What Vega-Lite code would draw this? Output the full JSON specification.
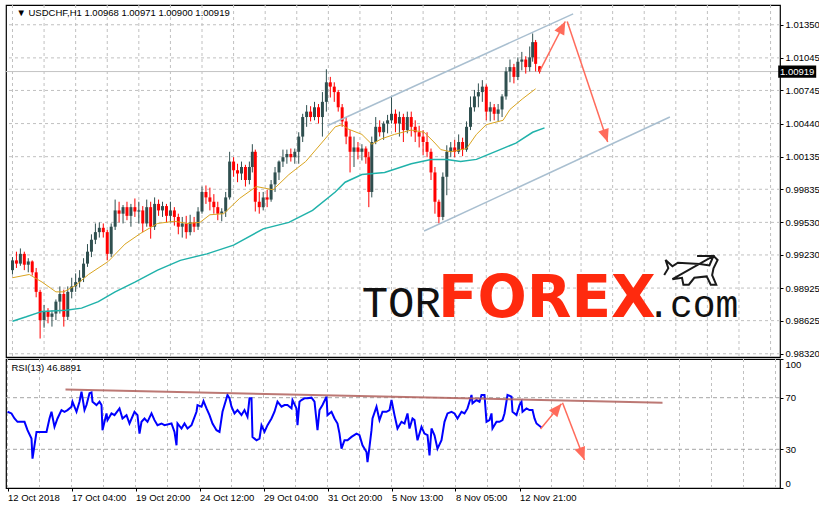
{
"$schema": "https://vega.github.io/schema/vega-lite/v6.json",
"background": "white",
"padding": {"left": 2, "top": 3, "right": 0, "bottom": 0},
"spacing": -2,
"config": {
 "view": {"stroke": "#000", "strokeWidth": 1.2},
 "axis": {"labelFont": "Liberation Sans", "labelFontSize": 9.5, "labelColor": "#000", "tickColor": "#000", "tickSize": 3, "domain": false, "labelPadding": 2, "labelOverlap": false, "labelFlush": false, "grid": false},
 "text": {"font": "Liberation Sans", "fontSize": 9.5, "color": "#000"}
},
"datasets": {
 "xgrid": [{"v":0},{"v":32},{"v":64},{"v":96},{"v":128},{"v":160},{"v":192},{"v":224},{"v":256},{"v":288},{"v":320},{"v":352},{"v":384},{"v":416},{"v":448},{"v":480},{"v":512},{"v":544},{"v":576},{"v":608},{"v":640},{"v":672},{"v":704},{"v":736},{"v":768}],
 "pgrid": [{"v":1.0135},{"v":1.01045},{"v":1.00745},{"v":1.0044},{"v":1.00135},{"v":0.99835},{"v":0.9953},{"v":0.9923},{"v":0.98925},{"v":0.98625},{"v":0.9832}],
 "rgrid": [{"v":30},{"v":70}],
 "candles": [
{"t":0,"o":0.9909,"h":0.9921,"l":0.9905,"c":0.9918},
{"t":4,"o":0.9918,"h":0.9926,"l":0.9911,"c":0.9915},
{"t":8,"o":0.9915,"h":0.9929,"l":0.9913,"c":0.9924},
{"t":12,"o":0.9924,"h":0.9926,"l":0.9909,"c":0.9914},
{"t":16,"o":0.9914,"h":0.992,"l":0.9907,"c":0.9917},
{"t":20,"o":0.9917,"h":0.9918,"l":0.9904,"c":0.9907},
{"t":24,"o":0.9907,"h":0.9911,"l":0.9884,"c":0.9889},
{"t":28,"o":0.9889,"h":0.9891,"l":0.9846,"c":0.9863},
{"t":32,"o":0.9863,"h":0.9877,"l":0.9856,"c":0.9871},
{"t":36,"o":0.9871,"h":0.9874,"l":0.986,"c":0.9866},
{"t":40,"o":0.9866,"h":0.9872,"l":0.9857,"c":0.9869},
{"t":44,"o":0.9869,"h":0.9882,"l":0.9863,"c":0.988},
{"t":48,"o":0.988,"h":0.9894,"l":0.9869,"c":0.9887},
{"t":52,"o":0.9887,"h":0.9891,"l":0.9857,"c":0.9866},
{"t":56,"o":0.9866,"h":0.9894,"l":0.9863,"c":0.9889},
{"t":60,"o":0.9889,"h":0.9902,"l":0.9883,"c":0.9894},
{"t":64,"o":0.9894,"h":0.9906,"l":0.9889,"c":0.9898},
{"t":68,"o":0.9898,"h":0.9909,"l":0.9893,"c":0.9902},
{"t":72,"o":0.9902,"h":0.992,"l":0.9898,"c":0.9915},
{"t":76,"o":0.9915,"h":0.9933,"l":0.9912,"c":0.9926},
{"t":80,"o":0.9926,"h":0.9942,"l":0.9921,"c":0.9937},
{"t":84,"o":0.9937,"h":0.9952,"l":0.9933,"c":0.9944},
{"t":88,"o":0.9944,"h":0.9953,"l":0.9939,"c":0.9948},
{"t":92,"o":0.9948,"h":0.9952,"l":0.9939,"c":0.9944},
{"t":96,"o":0.9944,"h":0.9946,"l":0.9918,"c":0.9924},
{"t":100,"o":0.9924,"h":0.9952,"l":0.9921,"c":0.9949},
{"t":104,"o":0.9949,"h":0.9974,"l":0.9946,"c":0.9964},
{"t":108,"o":0.9964,"h":0.9972,"l":0.9953,"c":0.9961},
{"t":112,"o":0.9961,"h":0.9969,"l":0.9952,"c":0.9967},
{"t":116,"o":0.9967,"h":0.9972,"l":0.9955,"c":0.9959},
{"t":120,"o":0.9959,"h":0.997,"l":0.9949,"c":0.9967},
{"t":124,"o":0.9967,"h":0.9975,"l":0.9958,"c":0.9963},
{"t":128,"o":0.9963,"h":0.9972,"l":0.9952,"c":0.9964},
{"t":132,"o":0.9964,"h":0.9968,"l":0.9944,"c":0.9952},
{"t":136,"o":0.9952,"h":0.9974,"l":0.9949,"c":0.9967},
{"t":140,"o":0.9967,"h":0.9972,"l":0.9938,"c":0.9949},
{"t":144,"o":0.9949,"h":0.9976,"l":0.9946,"c":0.997},
{"t":148,"o":0.997,"h":0.9974,"l":0.9959,"c":0.9964},
{"t":152,"o":0.9964,"h":0.9972,"l":0.9958,"c":0.9968},
{"t":156,"o":0.9968,"h":0.997,"l":0.9953,"c":0.9959},
{"t":160,"o":0.9959,"h":0.9972,"l":0.9953,"c":0.9964},
{"t":164,"o":0.9964,"h":0.9967,"l":0.995,"c":0.9958},
{"t":168,"o":0.9958,"h":0.9961,"l":0.9942,"c":0.9949},
{"t":172,"o":0.9949,"h":0.9958,"l":0.9939,"c":0.9952},
{"t":176,"o":0.9952,"h":0.9959,"l":0.9938,"c":0.9944},
{"t":180,"o":0.9944,"h":0.996,"l":0.9941,"c":0.9953},
{"t":184,"o":0.9953,"h":0.9958,"l":0.9944,"c":0.9949},
{"t":188,"o":0.9949,"h":0.9967,"l":0.9946,"c":0.9963},
{"t":192,"o":0.9963,"h":0.9986,"l":0.9961,"c":0.9981},
{"t":196,"o":0.9981,"h":0.9987,"l":0.997,"c":0.9976},
{"t":200,"o":0.9976,"h":0.9985,"l":0.9964,"c":0.9972},
{"t":204,"o":0.9972,"h":0.9979,"l":0.9961,"c":0.9967},
{"t":208,"o":0.9967,"h":0.9972,"l":0.9955,"c":0.9961},
{"t":212,"o":0.9961,"h":0.9966,"l":0.9954,"c":0.9963},
{"t":216,"o":0.9963,"h":0.9981,"l":0.9958,"c":0.9976},
{"t":220,"o":0.9976,"h":1.0018,"l":0.9974,"c":1.0009},
{"t":224,"o":1.0009,"h":1.0013,"l":0.9995,"c":1.0001},
{"t":228,"o":1.0001,"h":1.0007,"l":0.999,"c":0.9998},
{"t":232,"o":0.9998,"h":1.0009,"l":0.9992,"c":1.0004},
{"t":236,"o":1.0004,"h":1.0006,"l":0.9986,"c":0.9992},
{"t":240,"o":0.9992,"h":1.0009,"l":0.9988,"c":1.0004},
{"t":243,"o":1.0004,"h":1.0025,"l":0.9999,"c":1.0018},
{"t":246,"o":1.0018,"h":1.002,"l":0.9963,"c":0.9972},
{"t":250,"o":0.9972,"h":0.9981,"l":0.9961,"c":0.9967},
{"t":254,"o":0.9967,"h":0.9981,"l":0.9964,"c":0.9976},
{"t":258,"o":0.9976,"h":0.9983,"l":0.9967,"c":0.9974},
{"t":262,"o":0.9974,"h":0.9992,"l":0.9972,"c":0.9988},
{"t":266,"o":0.9988,"h":1.0004,"l":0.9981,"c":0.9999},
{"t":270,"o":0.9999,"h":1.001,"l":0.9992,"c":1.0009},
{"t":274,"o":1.0009,"h":1.002,"l":1.0004,"c":1.0013},
{"t":278,"o":1.0013,"h":1.002,"l":1.0007,"c":1.0016},
{"t":282,"o":1.0016,"h":1.0021,"l":1.0009,"c":1.0013},
{"t":286,"o":1.0013,"h":1.0021,"l":1.0007,"c":1.0018},
{"t":290,"o":1.0018,"h":1.0036,"l":1.0007,"c":1.0032},
{"t":294,"o":1.0032,"h":1.0053,"l":1.0027,"c":1.005},
{"t":298,"o":1.005,"h":1.0061,"l":1.0041,"c":1.0055},
{"t":302,"o":1.0055,"h":1.006,"l":1.0046,"c":1.005},
{"t":306,"o":1.005,"h":1.0064,"l":1.0047,"c":1.0059},
{"t":310,"o":1.0059,"h":1.0062,"l":1.0044,"c":1.005},
{"t":314,"o":1.005,"h":1.0073,"l":1.0032,"c":1.0064},
{"t":318,"o":1.0064,"h":1.0094,"l":1.0055,"c":1.0082},
{"t":322,"o":1.0082,"h":1.0087,"l":1.0068,"c":1.0078},
{"t":326,"o":1.0078,"h":1.0082,"l":1.0064,"c":1.0073},
{"t":330,"o":1.0073,"h":1.0075,"l":1.0055,"c":1.0059},
{"t":334,"o":1.0059,"h":1.0062,"l":1.0041,"c":1.0046},
{"t":338,"o":1.0046,"h":1.005,"l":1.0025,"c":1.0032},
{"t":342,"o":1.0032,"h":1.0038,"l":0.9999,"c":1.0018},
{"t":346,"o":1.0018,"h":1.0032,"l":1.0004,"c":1.0022},
{"t":350,"o":1.0022,"h":1.0027,"l":1.0011,"c":1.0018},
{"t":354,"o":1.0018,"h":1.0025,"l":1.001,"c":1.0021},
{"t":358,"o":1.0021,"h":1.0023,"l":1.0007,"c":1.0013},
{"t":361,"o":1.0013,"h":1.0018,"l":0.9967,"c":0.9981},
{"t":364,"o":0.9981,"h":1.0032,"l":0.9976,"c":1.0027},
{"t":368,"o":1.0027,"h":1.005,"l":1.0025,"c":1.0041},
{"t":372,"o":1.0041,"h":1.0047,"l":1.0032,"c":1.0036},
{"t":376,"o":1.0036,"h":1.0046,"l":1.0029,"c":1.0044},
{"t":380,"o":1.0044,"h":1.0052,"l":1.0035,"c":1.0047},
{"t":384,"o":1.0047,"h":1.0069,"l":1.0044,"c":1.0053},
{"t":388,"o":1.0053,"h":1.0057,"l":1.0036,"c":1.0044},
{"t":392,"o":1.0044,"h":1.0055,"l":1.0032,"c":1.005},
{"t":396,"o":1.005,"h":1.0053,"l":1.0027,"c":1.0038},
{"t":400,"o":1.0038,"h":1.0055,"l":1.0035,"c":1.005},
{"t":404,"o":1.005,"h":1.0055,"l":1.0032,"c":1.0041},
{"t":408,"o":1.0041,"h":1.0047,"l":1.0027,"c":1.0036},
{"t":412,"o":1.0036,"h":1.0042,"l":1.0022,"c":1.0032},
{"t":416,"o":1.0032,"h":1.0038,"l":1.0015,"c":1.0027},
{"t":420,"o":1.0027,"h":1.0036,"l":1.0013,"c":1.0018},
{"t":424,"o":1.0018,"h":1.0021,"l":0.9992,"c":0.9999},
{"t":428,"o":0.9999,"h":1.0004,"l":0.9961,"c":0.9972},
{"t":432,"o":0.9972,"h":0.9974,"l":0.9952,"c":0.9958},
{"t":436,"o":0.9958,"h":0.9999,"l":0.9955,"c":0.9995},
{"t":440,"o":0.9995,"h":1.0024,"l":0.9978,"c":1.0018},
{"t":444,"o":1.0018,"h":1.0027,"l":1.0013,"c":1.0022},
{"t":448,"o":1.0022,"h":1.0029,"l":1.0013,"c":1.0018},
{"t":452,"o":1.0018,"h":1.0034,"l":1.0016,"c":1.0027},
{"t":456,"o":1.0027,"h":1.0031,"l":1.0014,"c":1.002},
{"t":460,"o":1.002,"h":1.0046,"l":1.0018,"c":1.0041},
{"t":464,"o":1.0041,"h":1.0069,"l":1.0038,"c":1.0059},
{"t":468,"o":1.0059,"h":1.0075,"l":1.0055,"c":1.0069},
{"t":472,"o":1.0069,"h":1.0081,"l":1.0059,"c":1.0073},
{"t":476,"o":1.0073,"h":1.0084,"l":1.0064,"c":1.0078},
{"t":480,"o":1.0078,"h":1.008,"l":1.0047,"c":1.0055},
{"t":484,"o":1.0055,"h":1.0064,"l":1.0046,"c":1.0059},
{"t":488,"o":1.0059,"h":1.0062,"l":1.0047,"c":1.0053},
{"t":492,"o":1.0053,"h":1.0062,"l":1.0046,"c":1.0057},
{"t":496,"o":1.0057,"h":1.0071,"l":1.005,"c":1.0069},
{"t":500,"o":1.0069,"h":1.0096,"l":1.0066,"c":1.0092},
{"t":504,"o":1.0092,"h":1.0103,"l":1.0082,"c":1.0096},
{"t":508,"o":1.0096,"h":1.0099,"l":1.0081,"c":1.0087},
{"t":512,"o":1.0087,"h":1.0105,"l":1.0084,"c":1.0101},
{"t":516,"o":1.0101,"h":1.011,"l":1.0093,"c":1.0103},
{"t":520,"o":1.0103,"h":1.0106,"l":1.009,"c":1.0096},
{"t":524,"o":1.0096,"h":1.0115,"l":1.0092,"c":1.0105},
{"t":527,"o":1.0105,"h":1.0127,"l":1.0101,"c":1.0119},
{"t":530,"o":1.0119,"h":1.0121,"l":1.0092,"c":1.0099},
{"t":534,"o":1.00968,"h":1.00971,"l":1.009,"c":1.00919}
 ],
 "maFast": [
{"t":0,"p":0.9902},{"t":17,"p":0.9905},{"t":30,"p":0.9898},{"t":44,"p":0.9889},{"t":52,"p":0.9889},{"t":64,"p":0.9895},{"t":77,"p":0.9905},{"t":97,"p":0.9917},{"t":114,"p":0.9933},{"t":130,"p":0.9943},{"t":147,"p":0.9952},{"t":164,"p":0.9954},{"t":177,"p":0.9952},{"t":190,"p":0.9953},{"t":200,"p":0.996},{"t":214,"p":0.9961},{"t":230,"p":0.9975},{"t":247,"p":0.9986},{"t":264,"p":0.9983},{"t":280,"p":0.9997},{"t":297,"p":1.0009},{"t":314,"p":1.0027},{"t":327,"p":1.0041},{"t":334,"p":1.0043},{"t":340,"p":1.0039},{"t":354,"p":1.0034},{"t":364,"p":1.0025},{"t":374,"p":1.003},{"t":387,"p":1.0034},{"t":404,"p":1.0038},{"t":417,"p":1.0036},{"t":427,"p":1.0027},{"t":434,"p":1.002},{"t":444,"p":1.0018},{"t":460,"p":1.0021},{"t":470,"p":1.0034},{"t":480,"p":1.0043},{"t":497,"p":1.0047},{"t":504,"p":1.0057},{"t":517,"p":1.0067},{"t":530,"p":1.0076}
 ],
 "maSlow": [
{"t":0,"p":0.9862},{"t":14,"p":0.9866},{"t":30,"p":0.9871},{"t":54,"p":0.9872},{"t":70,"p":0.9874},{"t":87,"p":0.988},{"t":104,"p":0.9889},{"t":124,"p":0.9898},{"t":147,"p":0.9909},{"t":170,"p":0.9918},{"t":197,"p":0.9924},{"t":224,"p":0.9932},{"t":254,"p":0.9947},{"t":280,"p":0.9953},{"t":304,"p":0.9964},{"t":327,"p":0.9981},{"t":337,"p":0.999},{"t":354,"p":0.9997},{"t":377,"p":0.9999},{"t":404,"p":1.0007},{"t":424,"p":1.0011},{"t":440,"p":1.0011},{"t":454,"p":1.0009},{"t":470,"p":1.0011},{"t":494,"p":1.002},{"t":510,"p":1.0026},{"t":527,"p":1.0036},{"t":539,"p":1.004}
 ],
 "channel": [
{"g":"up","t":319,"p":1.0042},{"g":"up","t":568,"p":1.0145},{"g":"lo","t":417,"p":0.9945},{"g":"lo","t":666,"p":1.005}
 ],
 "arrows": [
{"t":534,"p":1.0092,"t2":560,"p2":1.0138},{"t":562,"p":1.0138,"t2":603,"p2":1.0027}
 ],
 "rsi": [
{"t":0,"r":59.1},{"t":4,"r":57.8},{"t":7,"r":53.9},{"t":10,"r":51.3},{"t":17,"r":51.3},{"t":20,"r":44.8},{"t":24,"r":38.3},{"t":25,"r":22.7},{"t":27,"r":33.1},{"t":29,"r":43.5},{"t":34,"r":43.5},{"t":39,"r":43.5},{"t":42,"r":53.9},{"t":44,"r":59.1},{"t":47,"r":47.4},{"t":50,"r":53.9},{"t":54,"r":60.4},{"t":57,"r":59.1},{"t":60,"r":60.4},{"t":64,"r":63.0},{"t":65,"r":66.9},{"t":69,"r":59.1},{"t":72,"r":66.9},{"t":74,"r":74.7},{"t":77,"r":60.4},{"t":79,"r":64.3},{"t":82,"r":73.4},{"t":84,"r":74.1},{"t":85,"r":66.9},{"t":89,"r":64.3},{"t":92,"r":66.9},{"t":94,"r":64.3},{"t":95,"r":44.8},{"t":97,"r":51.3},{"t":99,"r":57.8},{"t":100,"r":52.6},{"t":104,"r":57.8},{"t":107,"r":56.5},{"t":112,"r":61.7},{"t":115,"r":53.9},{"t":119,"r":56.5},{"t":122,"r":50.0},{"t":127,"r":59.1},{"t":130,"r":56.5},{"t":132,"r":42.2},{"t":134,"r":51.3},{"t":137,"r":53.9},{"t":140,"r":51.3},{"t":144,"r":57.8},{"t":147,"r":52.6},{"t":150,"r":48.7},{"t":154,"r":50.0},{"t":157,"r":48.7},{"t":164,"r":50.0},{"t":167,"r":43.5},{"t":169,"r":33.1},{"t":170,"r":50.0},{"t":174,"r":46.1},{"t":177,"r":50.0},{"t":180,"r":46.1},{"t":184,"r":48.7},{"t":189,"r":59.1},{"t":190,"r":64.3},{"t":194,"r":63.0},{"t":196,"r":67.4},{"t":199,"r":61.7},{"t":202,"r":56.5},{"t":205,"r":50.0},{"t":209,"r":44.8},{"t":212,"r":43.5},{"t":215,"r":59.1},{"t":217,"r":64.3},{"t":220,"r":72.1},{"t":222,"r":69.5},{"t":224,"r":63.0},{"t":227,"r":57.8},{"t":230,"r":60.4},{"t":234,"r":56.5},{"t":237,"r":60.4},{"t":240,"r":55.2},{"t":242,"r":69.5},{"t":244,"r":69.5},{"t":245,"r":39.6},{"t":249,"r":37.0},{"t":252,"r":38.3},{"t":254,"r":48.7},{"t":257,"r":43.5},{"t":260,"r":48.7},{"t":264,"r":53.9},{"t":267,"r":59.1},{"t":270,"r":66.9},{"t":274,"r":63.0},{"t":277,"r":64.3},{"t":280,"r":64.3},{"t":284,"r":61.7},{"t":285,"r":68.2},{"t":289,"r":61.7},{"t":290,"r":48.7},{"t":292,"r":66.9},{"t":294,"r":68.2},{"t":297,"r":69.5},{"t":300,"r":69.5},{"t":304,"r":70.0},{"t":307,"r":66.9},{"t":310,"r":44.8},{"t":312,"r":60.4},{"t":315,"r":64.3},{"t":319,"r":70.8},{"t":320,"r":56.5},{"t":324,"r":59.1},{"t":327,"r":53.9},{"t":330,"r":50.0},{"t":332,"r":42.2},{"t":334,"r":30.5},{"t":337,"r":37.0},{"t":340,"r":37.0},{"t":344,"r":39.6},{"t":349,"r":42.2},{"t":352,"r":40.9},{"t":355,"r":33.1},{"t":359,"r":27.9},{"t":360,"r":20.1},{"t":362,"r":31.8},{"t":364,"r":44.8},{"t":365,"r":53.9},{"t":369,"r":63.0},{"t":372,"r":52.6},{"t":375,"r":59.1},{"t":379,"r":59.1},{"t":382,"r":60.4},{"t":384,"r":68.2},{"t":387,"r":56.5},{"t":390,"r":46.1},{"t":394,"r":51.3},{"t":397,"r":50.0},{"t":400,"r":57.8},{"t":402,"r":46.1},{"t":405,"r":53.9},{"t":407,"r":52.6},{"t":410,"r":37.0},{"t":414,"r":47.4},{"t":417,"r":42.2},{"t":420,"r":40.9},{"t":422,"r":25.3},{"t":424,"r":46.1},{"t":427,"r":40.9},{"t":430,"r":30.5},{"t":434,"r":37.0},{"t":437,"r":51.3},{"t":440,"r":57.8},{"t":444,"r":59.1},{"t":447,"r":57.8},{"t":450,"r":53.9},{"t":454,"r":59.1},{"t":457,"r":57.8},{"t":460,"r":61.7},{"t":462,"r":66.9},{"t":464,"r":72.1},{"t":465,"r":65.6},{"t":469,"r":68.2},{"t":472,"r":66.9},{"t":474,"r":72.1},{"t":477,"r":72.1},{"t":479,"r":51.3},{"t":482,"r":52.6},{"t":484,"r":57.8},{"t":485,"r":46.1},{"t":489,"r":51.3},{"t":492,"r":51.3},{"t":495,"r":52.6},{"t":497,"r":57.8},{"t":500,"r":72.1},{"t":504,"r":70.8},{"t":505,"r":59.1},{"t":509,"r":56.5},{"t":512,"r":64.3},{"t":514,"r":66.9},{"t":515,"r":59.1},{"t":519,"r":61.7},{"t":522,"r":60.4},{"t":525,"r":60.4},{"t":527,"r":53.9},{"t":529,"r":50.0},{"t":534,"r":46.89}
 ],
 "rsiTrend": [{"t":58,"r":76.3},{"t":655,"r":66.1}],
 "rsiArrows": [{"t":533,"r":45.8,"t2":554,"r2":65.3},{"t":555,"r":66.1,"t2":577,"r2":21.7}]
},
"vconcat": [
 {
  "width": 774, "height": 352,
  "resolve": {"axis": {"x": "independent", "y": "independent"}},
  "layer": [
   {"data": {"name": "xgrid"}, "mark": {"type": "rule", "color": "#c0c0c0", "strokeWidth": 1, "strokeDash": [3, 3]},
    "encoding": {"x": {"field": "v", "type": "quantitative", "axis": null}}},
   {"data": {"name": "pgrid"}, "mark": {"type": "rule", "color": "#c0c0c0", "strokeWidth": 1, "strokeDash": [3, 3]},
    "encoding": {"y": {"field": "v", "type": "quantitative", "axis": null}}},
   {"data": {"values": [{}]}, "mark": {"type": "rule", "color": "#c4c4c4", "strokeWidth": 1},
    "encoding": {"y": {"datum": 1.00919, "type": "quantitative", "axis": null}}},
   {"data": {"name": "candles"}, "mark": {"type": "rule", "strokeWidth": 1},
    "encoding": {
     "x": {"field": "t", "type": "quantitative", "scale": {"domain": [-1.5, 772.5], "nice": false, "zero": false}, "axis": null},
     "y": {"field": "l", "type": "quantitative", "scale": {"domain": [0.9829, 1.01532], "nice": false, "zero": false},
      "axis": {"orient": "right", "values": [1.0135, 1.01045, 1.00745, 1.0044, 1.00135, 0.99835, 0.9953, 0.9923, 0.98925, 0.98625, 0.9832], "format": ".5f", "title": null}},
     "y2": {"field": "h"},
     "color": {"condition": {"test": "datum.c >= datum.o", "value": "#2f4f4f"}, "value": "#ff0000"}
    }},
   {"data": {"name": "candles"}, "mark": {"type": "bar", "size": 3},
    "encoding": {
     "x": {"field": "t", "type": "quantitative", "axis": null},
     "y": {"field": "o", "type": "quantitative", "axis": null},
     "y2": {"field": "c"},
     "color": {"condition": {"test": "datum.c >= datum.o", "value": "#2f4f4f"}, "value": "#ff0000"}
    }},
   {"data": {"name": "maFast"}, "mark": {"type": "line", "color": "#daa520", "strokeWidth": 1},
    "encoding": {"x": {"field": "t", "type": "quantitative", "axis": null}, "y": {"field": "p", "type": "quantitative", "axis": null}}},
   {"data": {"name": "maSlow"}, "mark": {"type": "line", "color": "#20b2aa", "strokeWidth": 1.5},
    "encoding": {"x": {"field": "t", "type": "quantitative", "axis": null}, "y": {"field": "p", "type": "quantitative", "axis": null}}},
   {"data": {"name": "channel"}, "mark": {"type": "line", "color": "#a9bfd0", "strokeWidth": 1.5},
    "encoding": {"x": {"field": "t", "type": "quantitative", "axis": null}, "y": {"field": "p", "type": "quantitative", "axis": null}, "detail": {"field": "g"}}},
   {"data": {"name": "arrows"}, "mark": {"type": "rule", "color": "#ff6b5b", "strokeWidth": 1.5},
    "encoding": {"x": {"field": "t", "type": "quantitative", "axis": null}, "y": {"field": "p", "type": "quantitative", "axis": null}, "x2": {"field": "t2"}, "y2": {"field": "p2"}}},
   {"data": {"values": [{}]}, "mark": {"type": "point", "shape": "M0,0L0.55,1.3L-0.55,1.3Z", "size": 400, "filled": true, "opacity": 1, "color": "#ff6b5b", "angle": 27},
    "encoding": {"x": {"datum": 560, "type": "quantitative", "axis": null}, "y": {"datum": 1.0138, "type": "quantitative", "axis": null}}},
   {"data": {"values": [{}]}, "mark": {"type": "point", "shape": "M0,0L0.55,1.3L-0.55,1.3Z", "size": 400, "filled": true, "opacity": 1, "color": "#ff6b5b", "angle": 161},
    "encoding": {"x": {"datum": 603, "type": "quantitative", "axis": null}, "y": {"datum": 1.0027, "type": "quantitative", "axis": null}}},
   {"data": {"values": [{}]}, "mark": {"type": "text", "text": "▼ USDCHF,H1  1.00968 1.00971 1.00900 1.00919", "align": "left", "baseline": "middle"},
    "encoding": {"x": {"datum": 4, "type": "quantitative", "axis": null}, "y": {"datum": 1.0146, "type": "quantitative", "axis": null}}},
   {"data": {"values": [{}]}, "mark": {"type": "text", "text": "TOR", "align": "right", "baseline": "alphabetic", "font": "Liberation Mono", "fontSize": 44, "color": "#111"},
    "encoding": {"x": {"datum": 434, "type": "quantitative", "axis": null}, "y": {"datum": 0.9866, "type": "quantitative", "axis": null}}},
   {"data": {"values": [{}]}, "mark": {"type": "text", "text": "FOREX", "align": "left", "baseline": "alphabetic", "font": "DejaVu Sans", "fontWeight": "bold", "fontSize": 58, "color": "#ff2a0e"},
    "encoding": {"x": {"datum": 431, "type": "quantitative", "axis": null}, "y": {"datum": 0.9866, "type": "quantitative", "axis": null}}},
   {"data": {"values": [{}]}, "mark": {"type": "text", "text": ".com", "align": "left", "baseline": "alphabetic", "font": "Liberation Mono", "fontSize": 38, "color": "#111"},
    "encoding": {"x": {"datum": 643, "type": "quantitative", "axis": null}, "y": {"datum": 0.9866, "type": "quantitative", "axis": null}}},
   {"data": {"values": [{}]}, "mark": {"type": "point", "shape": "M-1,0.1L-0.85,-0.15L-0.95,-0.45L-0.7,-0.22L-0.5,-0.35L0.3,-0.3L0.65,-0.25L0.8,-0.6L0.2,-0.6M0.8,-0.6L0.95,-0.45L0.8,-0.15L0.75,0.1L0.9,0.45L0.7,0.45L0.55,0.15L0.1,0.2L-0.1,0.45L-0.3,0.45L-0.35,0.2L-0.7,0.25Z", "size": 3000, "filled": false, "opacity": 1, "color": "#1a1a1a", "strokeWidth": 2},
    "encoding": {"x": {"datum": 688, "type": "quantitative", "axis": null}, "y": {"datum": 0.9907, "type": "quantitative", "axis": null}}},
   {"data": {"values": [{}]}, "mark": {"type": "point", "shape": "M-1,-0.32H1V0.32H-1Z", "size": 1444, "filled": true, "opacity": 1, "color": "#000"},
    "encoding": {"x": {"datum": 795, "type": "quantitative", "axis": null}, "y": {"datum": 1.00919, "type": "quantitative", "axis": null}}},
   {"data": {"values": [{}]}, "mark": {"type": "text", "text": "1.00919", "align": "center", "baseline": "middle", "color": "#fff"},
    "encoding": {"x": {"datum": 795, "type": "quantitative", "axis": null}, "y": {"datum": 1.00919, "type": "quantitative", "axis": null}}}
  ]
 },
 {
  "width": 774, "height": 129,
  "resolve": {"axis": {"x": "independent", "y": "independent"}},
  "layer": [
   {"data": {"name": "xgrid"}, "mark": {"type": "rule", "color": "#c0c0c0", "strokeWidth": 1, "strokeDash": [3, 3]},
    "encoding": {"x": {"field": "v", "type": "quantitative", "axis": null}}},
   {"data": {"name": "rgrid"}, "mark": {"type": "rule", "color": "#a4a4a4", "strokeWidth": 1, "strokeDash": [4, 3]},
    "encoding": {"y": {"field": "v", "type": "quantitative", "axis": null}}},
   {"data": {"name": "rsi"}, "mark": {"type": "line", "color": "#0000ff", "strokeWidth": 2},
    "encoding": {
     "x": {"field": "t", "type": "quantitative", "scale": {"domain": [-1.5, 772.5], "nice": false, "zero": false},
      "axis": {"values": [0,64,128,192,256,320,384,448,512], "title": null, "labelAlign": "left", "labelBaseline": "top", "labelPadding": 1,
       "labelExpr": "['12 Oct 2018','17 Oct 04:00','19 Oct 20:00','24 Oct 12:00','29 Oct 04:00','31 Oct 20:00','5 Nov 13:00','8 Nov 05:00','12 Nov 21:00'][round(datum.value / 64)]"}},
     "y": {"field": "r", "type": "quantitative", "scale": {"domain": [0, 100], "nice": false, "zero": false},
      "axis": {"orient": "right", "values": [0, 30, 70, 100], "title": null, "labelFlush": true}}
    }},
   {"data": {"name": "rsiTrend"}, "mark": {"type": "line", "color": "#b0605c", "strokeWidth": 2, "opacity": 0.85},
    "encoding": {"x": {"field": "t", "type": "quantitative", "axis": null}, "y": {"field": "r", "type": "quantitative", "axis": null}}},
   {"data": {"name": "rsiArrows"}, "mark": {"type": "rule", "color": "#ff6b5b", "strokeWidth": 1.5},
    "encoding": {"x": {"field": "t", "type": "quantitative", "axis": null}, "y": {"field": "r", "type": "quantitative", "axis": null}, "x2": {"field": "t2"}, "y2": {"field": "r2"}}},
   {"data": {"values": [{}]}, "mark": {"type": "point", "shape": "M0,0L0.55,1.3L-0.55,1.3Z", "size": 400, "filled": true, "opacity": 1, "color": "#ff6b5b", "angle": 40},
    "encoding": {"x": {"datum": 554, "type": "quantitative", "axis": null}, "y": {"datum": 65.3, "type": "quantitative", "axis": null}}},
   {"data": {"values": [{}]}, "mark": {"type": "point", "shape": "M0,0L0.55,1.3L-0.55,1.3Z", "size": 400, "filled": true, "opacity": 1, "color": "#ff6b5b", "angle": 159},
    "encoding": {"x": {"datum": 577, "type": "quantitative", "axis": null}, "y": {"datum": 21.7, "type": "quantitative", "axis": null}}},
   {"data": {"values": [{}]}, "mark": {"type": "text", "text": "RSI(13) 46.8891", "align": "left", "baseline": "middle"},
    "encoding": {"x": {"datum": 4, "type": "quantitative", "axis": null}, "y": {"datum": 93.4, "type": "quantitative", "axis": null}}}
  ]
 }
]
}
